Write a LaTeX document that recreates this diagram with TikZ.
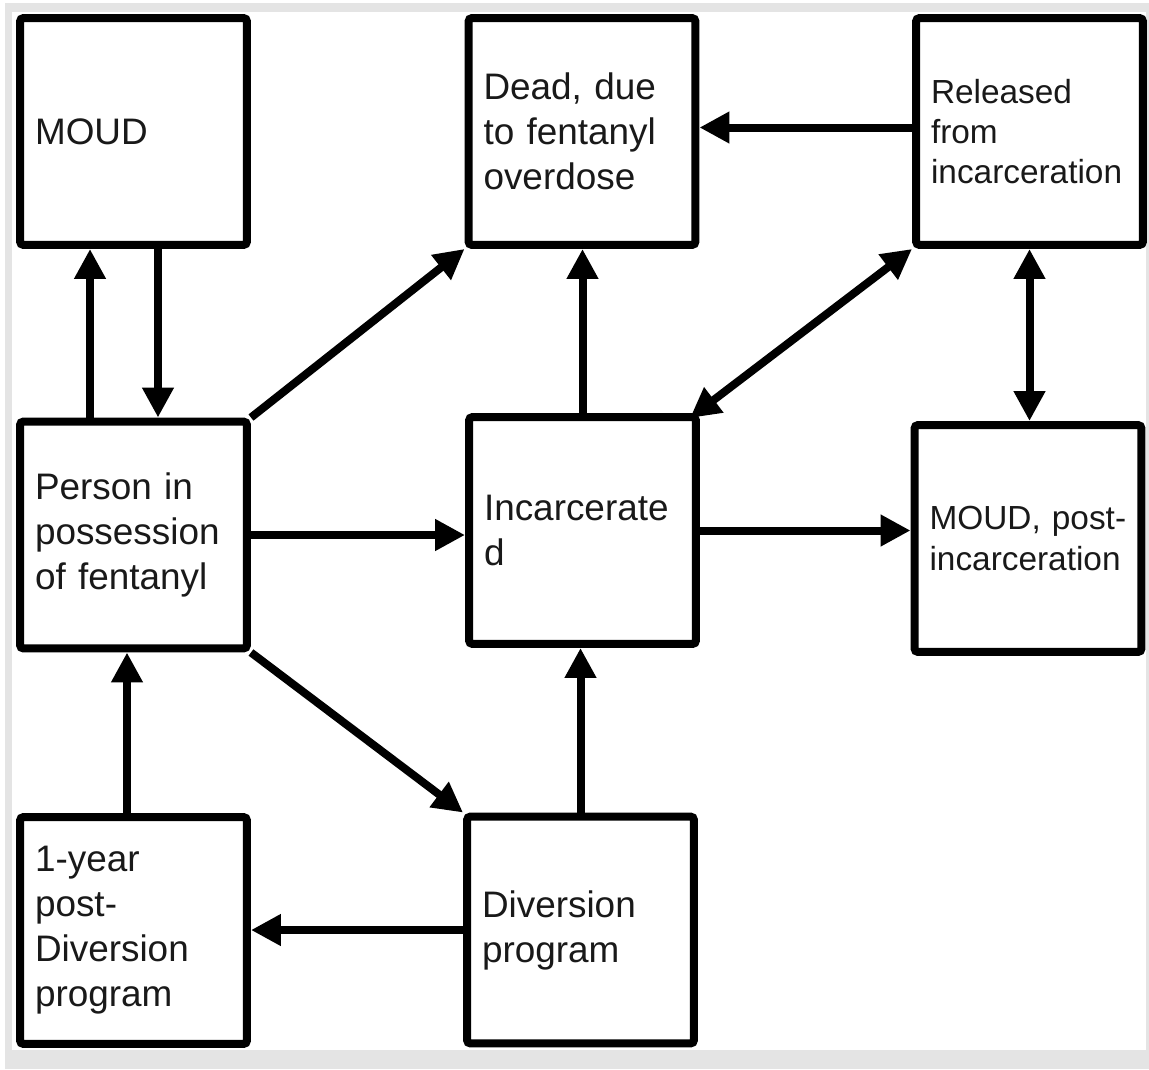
\documentclass[tikz,border=0pt]{standalone}
\usepackage{fontspec}
\setmainfont{Liberation Sans}
\usetikzlibrary{arrows.meta}
\definecolor{framegray}{RGB}{228,228,228}
\definecolor{txt}{RGB}{25,25,25}
\begin{document}
\begin{tikzpicture}[x=0.02cm,y=-0.02cm,
  box/.style={draw=black, line width=0.16cm, rounded corners=2pt, fill=white, text=txt,
    minimum width=4.54cm, minimum height=4.54cm, inner xsep=0.3cm, inner ysep=0.2cm,
    text width=3.94cm, align=left, font=\fontsize{21}{25.6}\selectfont},
  smallbox/.style={box, font=\fontsize{19}{22.8}\selectfont},
  tipA/.tip={Triangle[length=0.6cm,width=0.6cm]},
  arr/.style={line width=0.16cm, -tipA},
  darr/.style={line width=0.16cm, tipA-tipA}]
\useasboundingbox (0,0) rectangle (1149,1069);
\fill[white] (0,0) rectangle (1149,1069);
\fill[framegray] (5,3) rectangle (1149,1069);
\fill[white] (12,12) rectangle (1146,1050);

\node[box] (moud) at (133.5,131.5) {MOUD};
\node[box] (dead) at (582,131.5) {Dead, due\\to fentanyl\\overdose};
\node[smallbox] (rel) at (1029.5,131.5) {Released\\from\\incarceration};
\node[box] (p) at (133.5,535) {Person in\\possession\\of fentanyl};
\node[box] (inc) at (582.5,530.5) {Incarcerate\\d};
\node[smallbox] (mp) at (1028,538.5) {MOUD, post-\\incarceration};
\node[box] (yr) at (133.5,930.5) {1-year\\post-\\Diversion\\program};
\node[box] (div) at (580.5,930) {Diversion\\program};

\draw[arr] ([xshift=-0.87cm]p.north) -- ([xshift=-0.87cm]p.north |- moud.south);
\draw[arr] ([xshift=0.49cm]moud.south) -- ([xshift=0.49cm]moud.south |- p.north);
\draw[arr] (p.north east) -- (dead.south west);
\draw[arr] ([yshift=0.08cm]rel.west) -- ([yshift=0.08cm]rel.west -| dead.east);
\draw[arr] (inc.north) -- (inc.north |- dead.south);
\draw[darr] ([xshift=-0.2cm,yshift=-0.1cm]inc.north east) -- (rel.south west);
\draw[darr] (rel.south) -- (rel.south |- mp.north);
\draw[arr] (p.east) -- (p.east -| inc.west);
\draw[arr] (inc.east) -- (inc.east -| mp.west);
\draw[arr] (p.south east) -- (div.north west);
\draw[arr] (div.north) -- (div.north |- inc.south);
\draw[arr] (div.west) -- (div.west -| yr.east);
\draw[arr] ([xshift=-0.13cm]yr.north) -- ([xshift=-0.13cm]yr.north |- p.south);
\end{tikzpicture}
\end{document}
